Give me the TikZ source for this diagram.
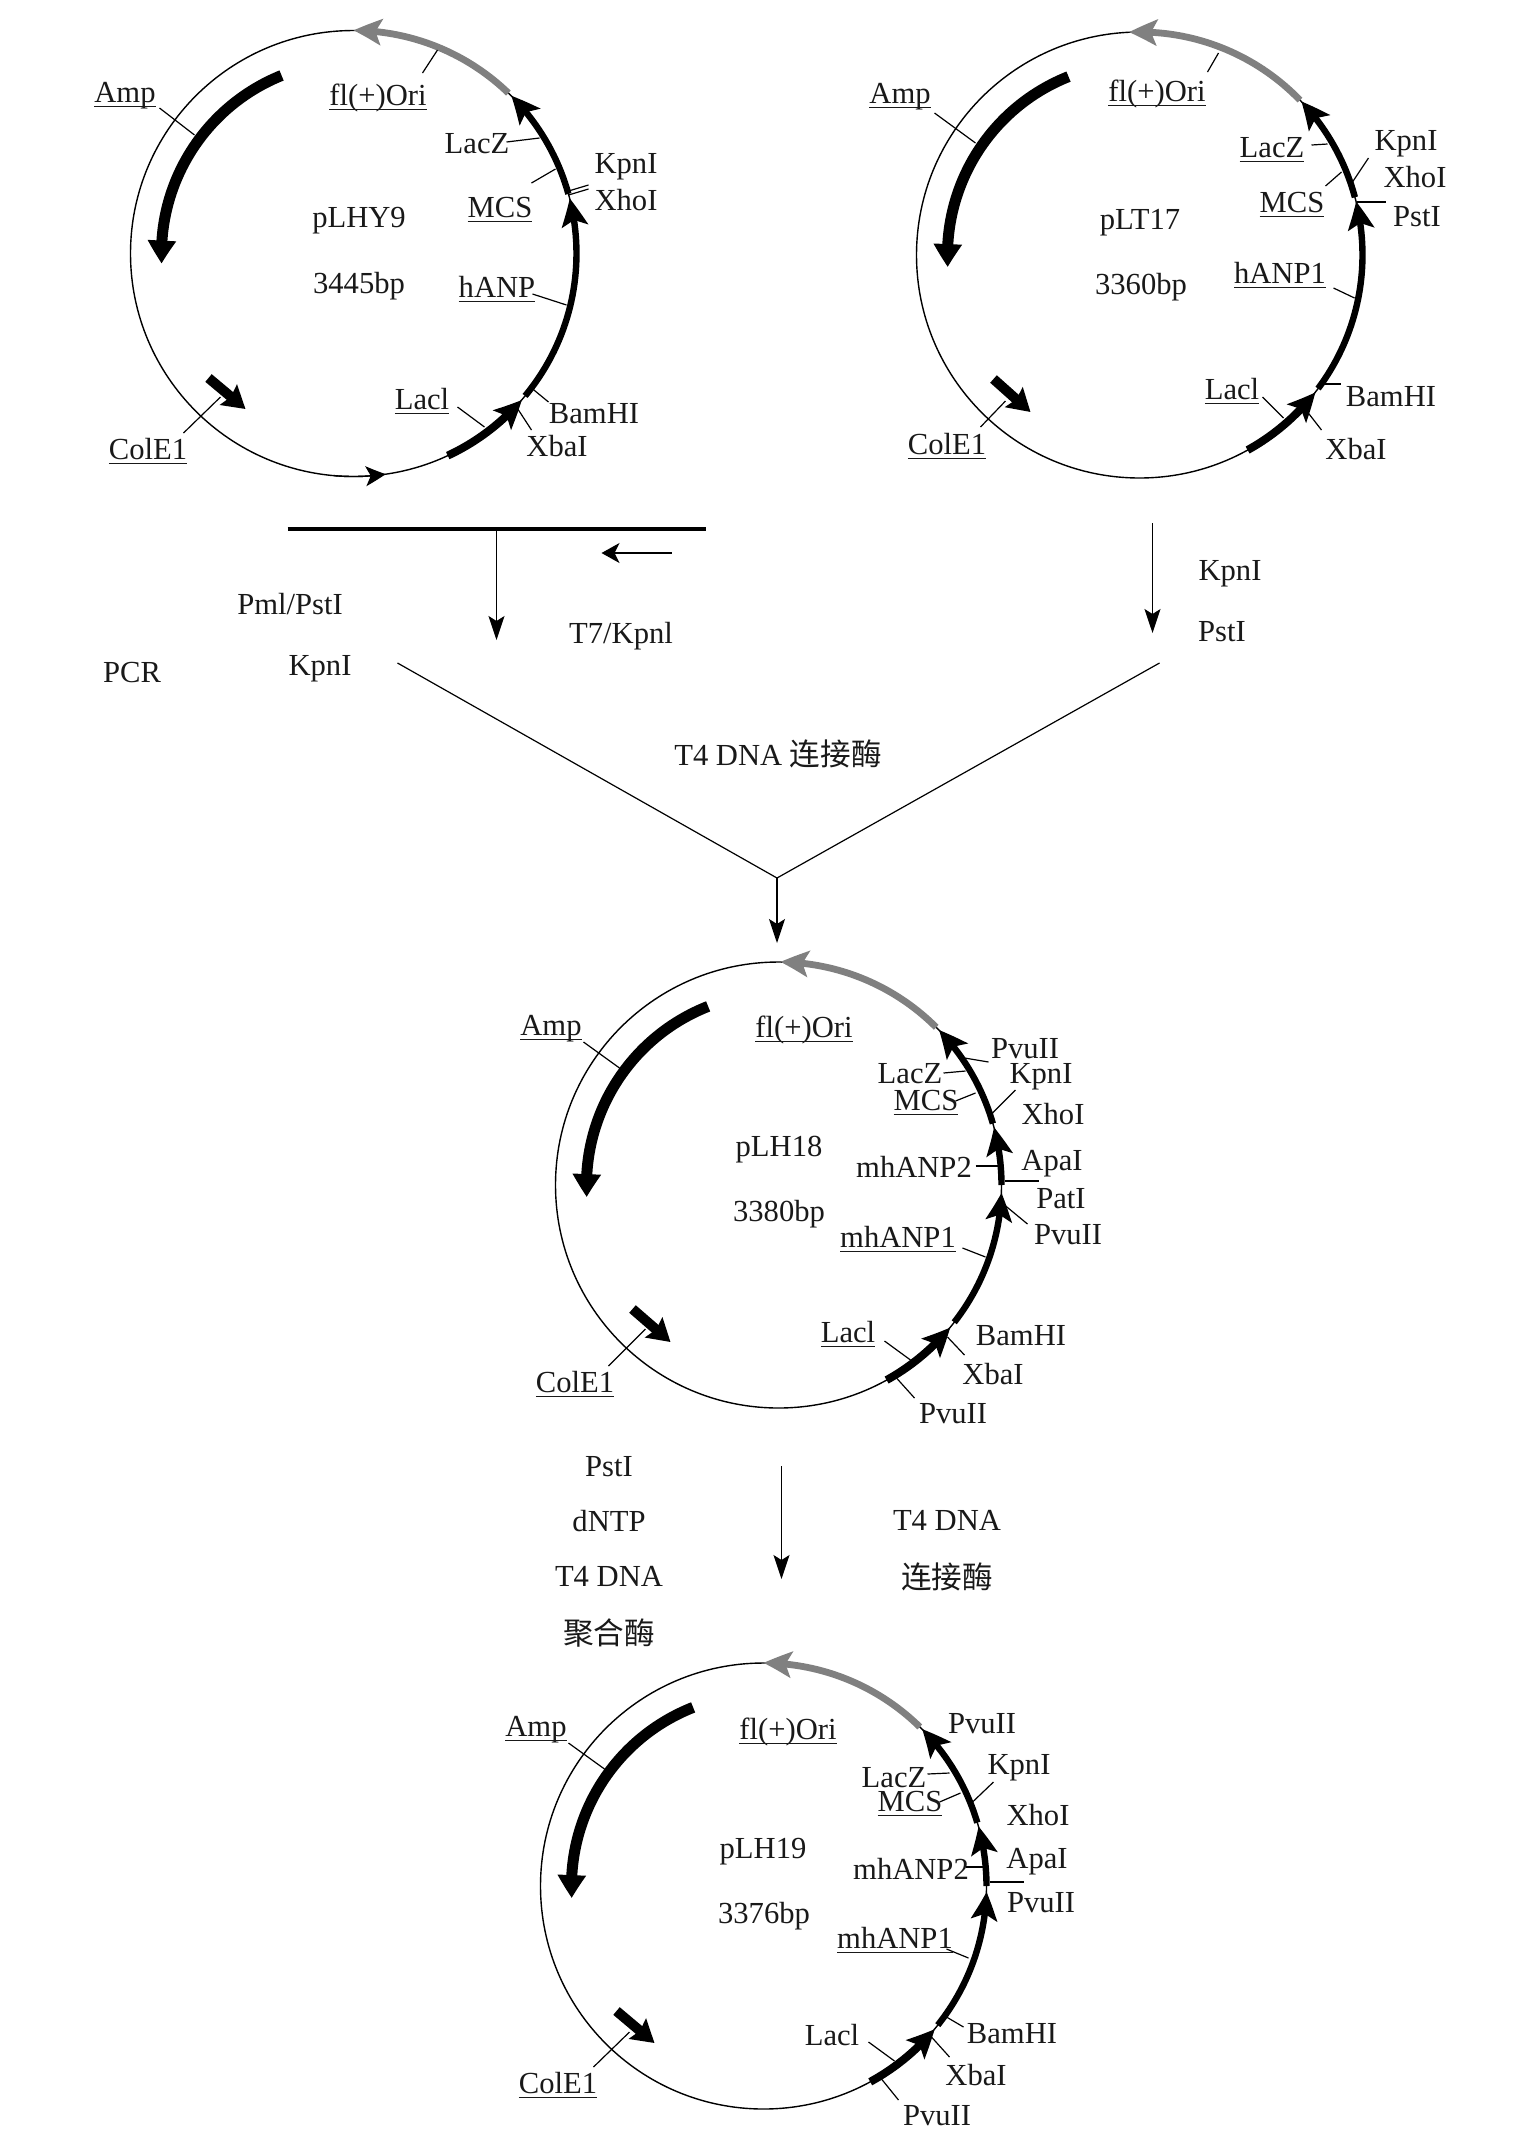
\documentclass[tikz,border=0pt]{standalone}
\usepackage{fontspec}
\setmainfont{Liberation Serif}
\newfontfamily\cjk{Noto Sans CJK SC}
\usetikzlibrary{arrows.meta,bending}
\tikzset{
  lab/.style={inner sep=0pt,xshift=0.75pt,yshift=-0.4pt,font=\fontsize{15.3}{18}\selectfont,text=black!90},
  ring/.style={draw=black,line width=0.7pt},
  leader/.style={draw=black,line width=0.6pt},
  gene/.style={draw=black,line width=3.2pt,-{Stealth[length=14pt,width=13pt,inset=3pt,bend]}},
  lacgene/.style={draw=black,line width=4pt,-{Stealth[length=14pt,width=13pt,inset=3pt,bend]}},
  ori/.style={draw=black!50,line width=3.4pt,-{Stealth[length=14pt,width=13pt,inset=3pt,bend]}},
  amp/.style={draw=black,line width=5.5pt,-{Stealth[length=11.5pt,width=13.5pt,inset=0pt,bend]}},
  cole/.style={draw=black,line width=5pt,-{Stealth[length=11pt,width=13pt,inset=1.5pt]}},
  small/.style={draw=black,line width=0.7pt,-{Stealth[length=10pt,width=10pt,inset=2.5pt,bend]}},
  flow/.style={draw=black,line width=0.6pt,-{Stealth[length=12pt,width=8pt,inset=2.5pt]}},
  flowb/.style={draw=black,line width=0.7pt,-{Stealth[length=9pt,width=10pt,inset=2.5pt]}},
  vee/.style={draw=black,line width=0.6pt},
  bar/.style={draw=black,line width=1.6pt}
}
\newcommand\ul[1]{\setbox0\hbox{#1}\rlap{\rule[-2.3pt]{\wd0}{0.55pt}}\box0}
\newcommand\arcg[5]{\draw[#1] (#2) ++(#4:#3) arc (#4:#5:#3);}
\newcommand\lead[3]{\coordinate (#1a) at (#2); \coordinate (#1b) at (#3); \draw[leader] (#1a) -- (#1b);}
\newcommand\lab[3]{\node[lab] (#1) at (#2) {#3};}
\newcommand\straight[4]{\coordinate (#1a) at (#3); \coordinate (#1b) at (#4); \draw[#2] (#1a) -- (#1b);}
\begin{document}
\begin{tikzpicture}[x=0.5pt,y=0.5pt]
\useasboundingbox[fill=white] (0,0) rectangle (1536,-2133);
\begin{scope}[shift={(-1.5,0)}]
% ---------- pLHY9
\coordinate (c1) at (355,-253.5);
\draw[ring] (c1) circle (223);
\arcg{ori}{c1}{223}{46}{90}
\arcg{gene}{c1}{223}{15.5}{45}
\arcg{gene}{c1}{223}{-39.7}{14.3}
\arcg{lacgene}{c1}{223}{-65}{-41}
\arcg{small}{c1}{223}{-95}{-81.7}
\arcg{amp}{c1}{192}{112}{183}
\straight{a1cole}{cole}{210,-378}{247,-409}
\lead{a1amp}{161,-108}{196,-135}
\lead{a1fl}{424,-73}{439,-50}
\lead{a1lz}{508,-142}{541,-138}
\lead{a1mcs}{533,-183}{557,-169}
\lead{a1ka}{570,-191}{590,-185}
\lead{a1kb}{570,-195}{590,-189}
\lead{a1han}{534,-294}{568,-305}
\lead{a1lac}{459,-407}{486,-427}
\lead{a1bam}{533,-388}{550,-402}
\lead{a1xba}{518,-407}{533,-430}
\lead{a1col}{185,-433}{222,-397}
\lab{n1amp}{125,-95}{\ul{Amp}}
\lab{n1fl}{378,-97}{\ul{fl(+)Ori}}
\lab{n1name}{359,-220}{pLHY9}
\lab{n1size}{359,-285}{3445bp}
\lab{n1lz}{477,-143}{LacZ}
\lab{n1k}{626,-166}{KpnI}
\lab{n1x}{626,-199}{XhoI}
\lab{n1mcs}{500,-209}{\ul{MCS}}
\lab{n1han}{497,-288}{\ul{hANP}}
\lab{n1lac}{422,-400}{\ul{Lacl}}
\lab{n1bam}{594,-413}{BamHI}
\lab{n1xba}{557,-445}{XbaI}
\lab{n1col}{148,-450}{\ul{ColE1}}

% ---------- pLT17
\coordinate (c2) at (1141,-255);
\draw[ring] (c2) circle (223);
\arcg{ori}{c2}{223}{44}{92.7}
\arcg{gene}{c2}{223}{15}{43.5}
\arcg{gene}{c2}{223}{-36.8}{13.9}
\arcg{lacgene}{c2}{223}{-61}{-38}
\arcg{amp}{c2}{192}{111.7}{183.6}
\straight{a2cole}{cole}{995,-379}{1032,-412}
\lead{a2amp}{936,-113}{977,-143}
\lead{a2fl}{1209,-72}{1220,-53}
\lead{a2lz}{1313,-145}{1329,-144}
\lead{a2mcs}{1327,-186}{1343,-172}
\lead{a2k}{1370,-158}{1354,-182}
\lead{a2p}{1387,-202}{1358,-202}
\lead{a2han}{1335,-288}{1356,-298}
\lead{a2lac}{1264,-397}{1285,-418}
\lead{a2bam}{1342,-384}{1321,-384}
\lead{a2xba}{1309,-412}{1323,-430}
\lead{a2col}{982,-427}{1007,-401}
\lab{n2amp}{900,-96}{\ul{Amp}}
\lab{n2fl}{1157,-93}{\ul{fl(+)Ori}}
\lab{n2lz}{1272,-149}{\ul{LacZ}}
\lab{n2k}{1406,-143}{KpnI}
\lab{n2x}{1415,-176}{XhoI}
\lab{n2p}{1417,-216}{PstI}
\lab{n2mcs}{1292,-204}{\ul{MCS}}
\lab{n2name}{1140,-222}{pLT17}
\lab{n2size}{1141,-286}{3360bp}
\lab{n2han}{1280,-274}{\ul{hANP1}}
\lab{n2lac}{1232,-390}{\ul{Lacl}}
\lab{n2bam}{1391,-396}{BamHI}
\lab{n2xba}{1356,-448}{XbaI}
\lab{n2col}{947,-445}{\ul{ColE1}}

% ---------- flow, upper
\straight{fbar}{bar}{289,-529}{707,-529}
\coordinate (fbarm) at (498,-529);
\coordinate (f1e) at (498,-640);
\draw[flow] (fbarm) -- (f1e);
\straight{fsm}{flowb}{673,-553}{603,-553}
\straight{fr}{flow}{1154,-523}{1154,-633}
\coordinate (vl) at (399,-663);
\coordinate (vr) at (1161,-663);
\coordinate (vm) at (778.5,-878);
\coordinate (ve) at (778.5,-943);
\draw[vee] (vl) -- (vm) -- (vr);
\draw[flow] (vm) -- (ve);
\lab{t1}{290,-603}{Pml/PstI}
\lab{t2}{621,-635}{T7/Kpnl}
\lab{t3}{320,-668}{KpnI}
\lab{t4}{132,-672}{PCR}
\lab{t5}{1230,-573}{KpnI}
\lab{t6}{1222,-631}{PstI}
\lab{t7}{778,-753}{T4 DNA {\cjk 连接酶}}

% ---------- pLH18
\coordinate (c3) at (780,-1185);
\draw[ring] (c3) circle (223);
\arcg{ori}{c3}{223}{45}{89.5}
\arcg{gene}{c3}{223}{16}{44}
\arcg{gene}{c3}{223}{0}{15}
\arcg{gene}{c3}{223}{-38}{-2}
\arcg{lacgene}{c3}{223}{-61}{-39.7}
\arcg{amp}{c3}{192}{111.5}{183.6}
\straight{a3cole}{cole}{634,-1309}{672,-1342}
\lead{a3amp}{585,-1042}{621,-1068}
\lead{a3pv}{990,-1062}{966,-1058}
\lead{a3lz}{945,-1073}{967,-1071}
\lead{a3mcs}{957,-1101}{977,-1093}
\lead{a3k}{1017,-1090}{994,-1113}
\lead{a3m2}{977,-1166}{999,-1166}
\lead{a3apa}{1040,-1181}{1006,-1181}
\lead{a3pvb}{1029,-1224}{1006,-1205}
\lead{a3m1}{964,-1248}{987,-1257}
\lead{a3lac}{886,-1341}{912,-1360}
\lead{a3xba}{966,-1355}{949,-1337}
\lead{a3pvc}{916,-1398}{898,-1378}
\lead{a3col}{610,-1366}{647,-1329}
\lab{n3amp}{551,-1028}{\ul{Amp}}
\lab{n3fl}{804,-1029}{\ul{fl(+)Ori}}
\lab{n3pv}{1025,-1048}{PvuII}
\lab{n3lz}{910,-1073}{LacZ}
\lab{n3k}{1041,-1076}{KpnI}
\lab{n3mcs}{926,-1102}{\ul{MCS}}
\lab{n3x}{1053,-1113}{XhoI}
\lab{n3name}{779,-1149}{pLH18}
\lab{n3m2}{914,-1166}{mhANP2}
\lab{n3apa}{1052,-1163}{ApaI}
\lab{n3pat}{1061,-1198}{PatI}
\lab{n3size}{779,-1213}{3380bp}
\lab{n3pvb}{1068,-1234}{PvuII}
\lab{n3m1}{898,-1238}{\ul{mhANP1}}
\lab{n3lac}{848,-1333}{\ul{Lacl}}
\lab{n3bam}{1021,-1335}{BamHI}
\lab{n3xba}{993,-1373}{XbaI}
\lab{n3pvc}{953,-1413}{PvuII}
\lab{n3col}{575,-1383}{\ul{ColE1}}

% ---------- flow, lower
\straight{fl}{flow}{783,-1466}{783,-1579}
\lab{u1}{609,-1466}{PstI}
\lab{u2}{609,-1520}{dNTP}
\lab{u3}{609,-1576}{T4 DNA}
\lab{u4}{609,-1632}{{\cjk 聚合酶}}
\lab{u5}{947,-1520}{T4 DNA}
\lab{u6}{947,-1576}{{\cjk 连接酶}}

% ---------- pLH19
\coordinate (c4) at (765,-1886);
\draw[ring] (c4) circle (223);
\arcg{ori}{c4}{223}{45.5}{90}
\arcg{gene}{c4}{223}{16.5}{44.7}
\arcg{gene}{c4}{223}{0}{15.5}
\arcg{gene}{c4}{223}{-38.6}{-1.5}
\arcg{lacgene}{c4}{223}{-61.4}{-39.9}
\arcg{amp}{c4}{192}{111.5}{183.6}
\straight{a4cole}{cole}{618,-2011}{656,-2043}
\lead{a4amp}{570,-1743}{606,-1769}
\lead{a4lz}{929,-1774}{951,-1773}
\lead{a4mcs}{941,-1802}{962,-1793}
\lead{a4k}{995,-1782}{973,-1803}
\lead{a4m2}{967,-1867}{984,-1867}
\lead{a4apa}{1025,-1882}{991,-1882}
\lead{a4m1}{948,-1949}{970,-1958}
\lead{a4lac}{870,-2042}{896,-2061}
\lead{a4bam}{965,-2027}{948,-2017}
\lead{a4xba}{951,-2057}{933,-2037}
\lead{a4pv}{900,-2100}{883,-2079}
\lead{a4col}{595,-2067}{631,-2032}
\lab{n4amp}{536,-1729}{\ul{Amp}}
\lab{n4fl}{788,-1731}{\ul{fl(+)Ori}}
\lab{n4pv}{982,-1723}{PvuII}
\lab{n4k}{1019,-1767}{KpnI}
\lab{n4lz}{894,-1777}{LacZ}
\lab{n4mcs}{910,-1803}{\ul{MCS}}
\lab{n4x}{1038,-1814}{XhoI}
\lab{n4name}{763,-1851}{pLH19}
\lab{n4m2}{911,-1868}{mhANP2}
\lab{n4apa}{1037,-1861}{ApaI}
\lab{n4pvb}{1041,-1902}{PvuII}
\lab{n4size}{764,-1915}{3376bp}
\lab{n4m1}{895,-1939}{\ul{mhANP1}}
\lab{n4lac}{832,-2034}{Lacl}
\lab{n4bam}{1012,-2033}{BamHI}
\lab{n4xba}{976,-2074}{XbaI}
\lab{n4pvc}{937,-2115}{PvuII}
\lab{n4col}{558,-2084}{\ul{ColE1}}
\end{scope}
\end{tikzpicture}
\end{document}
